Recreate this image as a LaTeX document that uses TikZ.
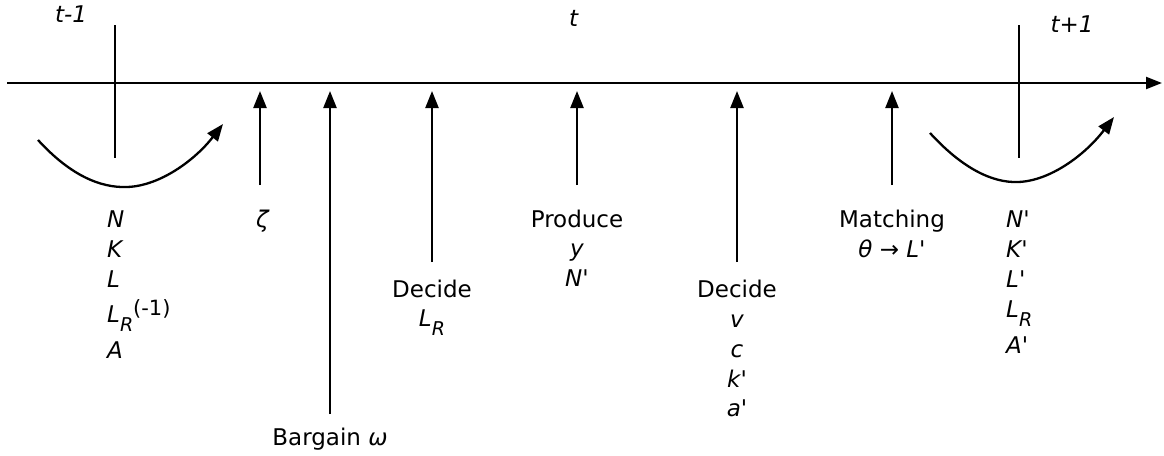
\documentclass[tikz,border=0pt]{standalone}
\usepackage{fontspec}
\setmainfont{DejaVu Sans}[Ligatures=TeXOff]
\usetikzlibrary{arrows.meta}
\newcommand\lsub[1]{\raisebox{-9pt}{\fontsize{19}{19}\selectfont #1}}
\newcommand\lsup[1]{\raisebox{7pt}{\fontsize{21}{21}\selectfont #1}}
\begin{document}
\begin{tikzpicture}[x=1pt,y=-1pt,
  lbl/.style={font=\fontsize{23}{30}\selectfont, inner sep=0pt, anchor=base},
  lbll/.style={lbl, anchor=base west},
  ln/.style={line width=2.3pt},
  arr/.style={line width=2.3pt, -{Triangle[length=17pt,width=13pt]}},
  axarr/.style={line width=2.3pt, -{Triangle[length=16pt,width=12pt]}},
]
\useasboundingbox (0,0) rectangle (1164,455);
% axis
\coordinate (axL) at (7,83);
\coordinate (axR) at (1162,83);
\draw[axarr] (axL) -- (axR);
% period ticks
\coordinate (tka) at (115,25); \coordinate (tkb) at (115,158);
\draw[ln] (tka) -- (tkb);
\coordinate (tkc) at (1019,25); \coordinate (tkd) at (1019,158);
\draw[ln] (tkc) -- (tkd);
% curved arrows
\coordinate (cls) at (38,140); \coordinate (clm) at (127,187); \coordinate (cle) at (223,124);
\draw[arr] (cls) .. controls (70,175) and (100,188) .. (clm) .. controls (160,186) and (195,160) .. (cle);
\coordinate (crs) at (930,133); \coordinate (crm) at (1018,182); \coordinate (cre) at (1114,117);
\draw[arr] (crs) .. controls (962,168) and (992,183) .. (crm) .. controls (1050,181) and (1085,155) .. (cre);
% event arrows
\coordinate (zb) at (260,185); \coordinate (zt) at (260,91);
\draw[arr] (zb) -- (zt);
\coordinate (bb) at (330,414); \coordinate (bt) at (330,91);
\draw[arr] (bb) -- (bt);
\coordinate (d1b) at (432,262); \coordinate (d1t) at (432,91);
\draw[arr] (d1b) -- (d1t);
\coordinate (pb) at (577,185); \coordinate (pt) at (577,91);
\draw[arr] (pb) -- (pt);
\coordinate (d2b) at (737,262); \coordinate (d2t) at (737,91);
\draw[arr] (d2b) -- (d2t);
\coordinate (mb) at (892,185); \coordinate (mt) at (892,91);
\draw[arr] (mb) -- (mt);
% period labels
\node[lbl] (tm1) at (71,22) {\textit{t-1}};
\node[lbl] (tt) at (574,26) {\textit{t}};
\node[lbl] (tp1) at (1072,32) {\textit{t+1}};
% left state column
\node[lbll] (sN) at (107,227) {\textit{N}};
\node[lbll] (sK) at (107,257) {\textit{K}};
\node[lbll] (sL) at (107,287) {\textit{L}};
\node[lbll] (sLR) at (107,322) {\textit{L}\lsub{\textit{R}}\lsup{(-1)}};
\node[lbll] (sA) at (107,358) {\textit{A}};
% zeta
\node[lbl] (zeta) at (263,227) {\textit{ζ}};
% bargain
\node[lbl] (barg) at (330,445) {Bargain \textit{ω}};
% decide LR
\node[lbl] (dec1) at (432,297) {Decide};
\node[lbl] (dec1a) at (432,326) {\textit{L}\lsub{\textit{R}}};
% produce
\node[lbl] (prod) at (577,227) {Produce};
\node[lbl] (prody) at (577,256) {\textit{y}};
\node[lbl] (prodN) at (577,286) {\textit{N'}};
% decide v
\node[lbl] (dec2) at (737,297) {Decide};
\node[lbl] (dec2v) at (737,327) {\textit{v}};
\node[lbl] (dec2c) at (737,357) {\textit{c}};
\node[lbl] (dec2k) at (737,387) {\textit{k'}};
\node[lbl] (dec2a) at (737,416) {\textit{a'}};
% matching
\node[lbl] (match) at (892,227) {Matching};
\node[lbl] (matchb) at (892,257) {\textit{θ} → \textit{L'}};
% right state column
\node[lbll] (rN) at (1006,227) {\textit{N'}};
\node[lbll] (rK) at (1006,257) {\textit{K'}};
\node[lbll] (rL) at (1006,287) {\textit{L'}};
\node[lbll] (rLR) at (1006,317) {\textit{L}\lsub{\textit{R}}};
\node[lbll] (rA) at (1006,353) {\textit{A'}};
\end{tikzpicture}
\end{document}
